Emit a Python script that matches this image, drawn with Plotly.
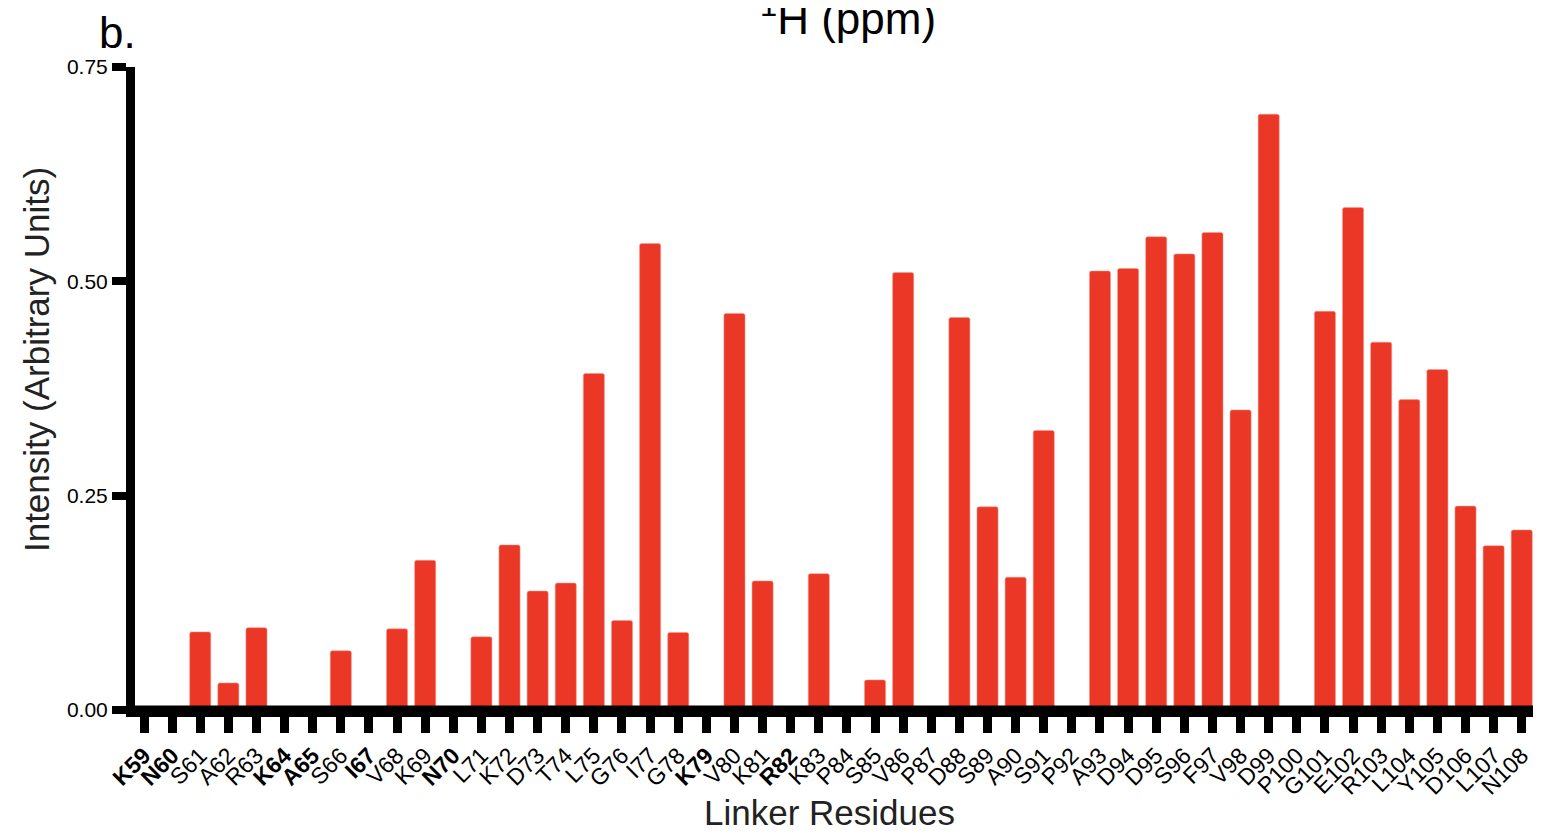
import plotly.graph_objects as go

residues = ["K59", "N60", "S61", "A62", "R63", "K64", "A65", "S66", "I67", "V68",
            "K69", "N70", "L71", "K72", "D73", "T74", "L75", "G76", "I77", "G78",
            "K79", "V80", "K81", "R82", "K83", "P84", "S85", "V86", "P87", "D88",
            "S89", "A90", "S91", "P92", "A93", "D94", "D95", "S96", "F97", "V98",
            "D99", "P100", "G101", "E102", "R103", "L104", "Y105", "D106", "L107", "N108"]

intensity = [0.0, 0.0, 0.091, 0.0315, 0.096, 0.0, 0.0, 0.069, 0.0, 0.0946,
             0.1745, 0.0, 0.0853, 0.1925, 0.1387, 0.148, 0.3925, 0.1043, 0.5440, 0.0903,
             0.0, 0.4626, 0.1505, 0.0, 0.1590, 0.0, 0.035, 0.5102, 0.0, 0.4578,
             0.2370, 0.1549, 0.3260, 0.0, 0.5120, 0.5150, 0.5520, 0.5320, 0.5570, 0.3500,
             0.6950, 0.0, 0.4650, 0.5860, 0.4290, 0.3620, 0.3970, 0.2378, 0.1916, 0.2100]

bold_residues = ["K59", "N60", "K64", "A65", "I67", "N70", "K79", "R82"]

tick_text = [f"<b>{r}</b>" if r in bold_residues else r for r in residues]

y_ticks = [0.0, 0.25, 0.5, 0.75]

fig = go.Figure()
fig.add_trace(go.Bar(
    x=residues,
    y=intensity,
    marker=dict(color="rgb(235,55,38)", line=dict(width=0.6, color="rgba(245,150,140,0.9)"),
                cornerradius=2),
    showlegend=False,
))

FONT = "Liberation Sans, Arial, Helvetica, sans-serif"

# the page body adds an 8px margin; figure sized so the page is exactly 1541x835
fig.update_layout(
    width=1525, height=819,
    margin=dict(l=127, r=0, t=59, b=112, autoexpand=False),
    paper_bgcolor="white", plot_bgcolor="white",
    bargap=0.25,
    font=dict(family=FONT, color="black"),
    xaxis=dict(
        type="category",
        range=[-0.32, 49.40],
        tickmode="array", tickvals=residues, ticktext=tick_text,
        tickangle=-45,
        tickfont=dict(size=23, family=FONT, color="black"),
        showline=True, linewidth=2, linecolor="black",
        ticks="outside", ticklen=16, tickwidth=9, tickcolor="black",
        showgrid=False, zeroline=False, automargin=False,
    ),
    yaxis=dict(
        range=[-0.0059, 0.75],
        tickmode="array", tickvals=y_ticks, ticktext=[f"{v:.2f}" for v in y_ticks],
        tickfont=dict(size=21, family=FONT, color="black"),
        showline=True, linewidth=9, linecolor="black",
        ticks="outside", ticklen=14, tickwidth=8, tickcolor="black",
        showgrid=False, zeroline=False, automargin=False,
    ),
    shapes=[
        # thick x-axis baseline centred on y = 0, drawn above the bars
        dict(type="rect", xref="paper", x0=-0.004, x1=1.01,
             yref="y", ysizemode="pixel", yanchor=0, y0=-7, y1=4.5,
             fillcolor="black", line=dict(width=0), layer="above"),
    ],
    annotations=[
        dict(text="Linker Residues", xref="paper", yref="paper", x=0.4971, y=-0.151,
             xanchor="center", yanchor="middle", showarrow=False,
             font=dict(size=35, family=FONT, color="#222222")),
        dict(text="Intensity (Arbitrary Units)", xref="paper", yref="paper", x=-0.0708, y=0.5478,
             xanchor="center", yanchor="middle", textangle=-90, showarrow=False,
             font=dict(size=35, family=FONT, color="#222222")),
        dict(text="b.", xref="paper", yref="paper", x=-0.0122, y=1.054,
             xanchor="center", yanchor="middle", showarrow=False,
             font=dict(size=44, family=FONT, color="black")),
        dict(text="<sup>1</sup>H (ppm)", xref="paper", yref="paper", x=0.51, y=1.0802,
             xanchor="center", yanchor="middle", showarrow=False,
             font=dict(size=44, family=FONT, color="black")),
    ],
)

fig.write_html("out.html")
